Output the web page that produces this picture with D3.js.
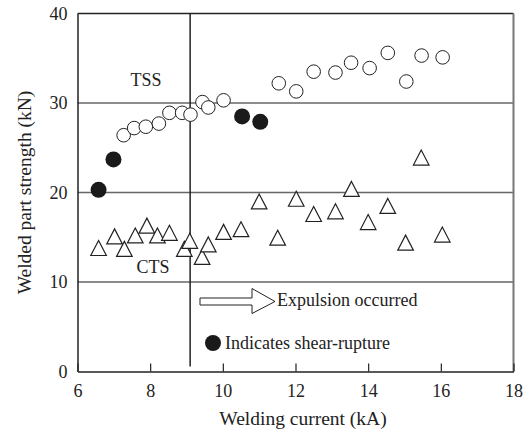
<!DOCTYPE html>
<html>
<head>
<meta charset="utf-8">
<script src="https://cdn.jsdelivr.net/npm/d3@7"></script>
<style>
  body { margin: 0; background: #fff; }
</style>
</head>
<body>
<svg width="528" height="432"></svg>
<script>
// TSS, normal fracture (open circles)
var tssCurrent  = [7.27, 7.56, 7.88, 8.24, 8.53, 8.88, 9.11, 9.44, 9.6, 10.02, 11.54, 12.02, 12.5, 13.1, 13.53, 14.04, 14.54, 15.05, 15.47, 16.05];
var tssStrength = [26.4, 27.2, 27.35, 27.7, 28.9, 28.9, 28.7, 30.1, 29.5, 30.3, 32.2, 31.3, 33.5, 33.4, 34.5, 33.9, 35.6, 32.4, 35.3, 35.1];
// TSS, shear-rupture (filled circles)
var ruptureCurrent  = [6.58, 6.99, 10.53, 11.03];
var ruptureStrength = [20.3, 23.7, 28.5, 27.9];
// CTS (triangles)
var ctsCurrent  = [6.58, 7.02, 7.29, 7.59, 7.91, 8.2, 8.53, 8.94, 9.09, 9.43, 9.6, 10.02, 10.5, 11.0, 11.51, 12.02, 12.5, 13.1, 13.54, 14.0, 14.54, 15.03, 15.46, 16.04];
var ctsStrength = [13.8, 15.1, 13.7, 15.2, 16.3, 15.2, 15.5, 13.7, 14.6, 12.8, 14.2, 15.6, 15.9, 19.0, 14.95, 19.3, 17.6, 17.9, 20.4, 16.7, 18.5, 14.4, 23.9, 15.3];

var xTicks = [6, 8, 10, 12, 14, 16, 18];
var yTicks = [0, 10, 20, 30, 40];
var expulsionCurrent = 9.1;

var serif = '"Liberation Serif", "Times New Roman", Times, serif';

var svg = d3.select("svg");

var x = d3.scaleLinear().domain([6, 18]).range([77.5, 513.5]);
var y = d3.scaleLinear().domain([0, 40]).range([371.5, 13.5]);

var zip = function(a, b) { return a.map(function(v, i) { return [v, b[i]]; }); };

function label(sel, size) {
  return sel.style("font-family", serif).style("font-size", size + "px").style("fill", "#222");
}

// grid lines at 10, 20, 30
svg.append("g").selectAll("line")
    .data(yTicks.filter(function(d) { return d > 0 && d < 40; }))
  .enter().append("line")
    .attr("x1", x(6)).attr("x2", x(18))
    .attr("y1", y).attr("y2", y)
    .attr("stroke", "#666").attr("stroke-width", 1.5);

// frame
svg.append("line").attr("x1", x(6)).attr("x2", x(18)).attr("y1", y(40)).attr("y2", y(40))
    .attr("stroke", "#222").attr("stroke-width", 1.5);
svg.append("line").attr("x1", x(18)).attr("x2", x(18)).attr("y1", y(40)).attr("y2", y(0))
    .attr("stroke", "#777").attr("stroke-width", 2);

// x axis, ticks pointing inward
var xAxis = svg.append("g")
    .attr("transform", "translate(0," + y(0) + ")")
    .call(d3.axisBottom(x).tickValues(xTicks).tickSizeInner(-8).tickSizeOuter(0).tickPadding(13));
xAxis.select(".domain").attr("stroke", "#222").attr("stroke-width", 1.5);
xAxis.selectAll(".tick line").attr("stroke", "#222").attr("stroke-width", 1.2);
label(xAxis.selectAll("text"), 18);

// y axis, labels only
var yAxis = svg.append("g")
    .attr("transform", "translate(" + x(6) + ",0)")
    .call(d3.axisLeft(y).tickValues(yTicks).tickSize(0).tickPadding(10));
yAxis.select(".domain").attr("stroke", "#222").attr("stroke-width", 1.5);
label(yAxis.selectAll("text"), 18);

// expulsion limit
svg.append("line")
    .attr("x1", x(expulsionCurrent)).attr("x2", x(expulsionCurrent))
    .attr("y1", y(40)).attr("y2", y(0) - 5)
    .attr("stroke", "#222").attr("stroke-width", 1.5);

// CTS triangles
var tri = "M0,-7.5L7.8,7.5L-7.8,7.5Z";
svg.append("g").selectAll("path")
    .data(zip(ctsCurrent, ctsStrength))
  .enter().append("path")
    .attr("d", tri)
    .attr("transform", function(d) { return "translate(" + x(d[0]) + "," + y(d[1]) + ")"; })
    .attr("fill", "#fff").attr("stroke", "#222").attr("stroke-width", 1.2);

// TSS open circles
svg.append("g").selectAll("circle")
    .data(zip(tssCurrent, tssStrength))
  .enter().append("circle")
    .attr("cx", function(d) { return x(d[0]); })
    .attr("cy", function(d) { return y(d[1]); })
    .attr("r", 6.8)
    .attr("fill", "#fff").attr("stroke", "#222").attr("stroke-width", 1);

// shear-rupture filled circles
svg.append("g").selectAll("circle")
    .data(zip(ruptureCurrent, ruptureStrength))
  .enter().append("circle")
    .attr("cx", function(d) { return x(d[0]); })
    .attr("cy", function(d) { return y(d[1]); })
    .attr("r", 8)
    .attr("fill", "#1a1a1a");

// labels inside plot
label(svg.append("text").attr("x", 146).attr("y", 86).attr("text-anchor", "middle").text("TSS"), 18);
label(svg.append("text").attr("x", 153).attr("y", 273).attr("text-anchor", "middle").text("CTS"), 18);

// arrow
svg.append("path")
    .attr("d", "M200,298L252,298L252,288.5L275,301.5L252,313.5L252,305L200,305Z")
    .attr("fill", "#fff").attr("stroke", "#222").attr("stroke-width", 1);
label(svg.append("text").attr("x", 277).attr("y", 306).text("Expulsion occurred"), 18);

// legend for filled marker
svg.append("circle").attr("cx", 213).attr("cy", 343).attr("r", 8).attr("fill", "#1a1a1a");
label(svg.append("text").attr("x", 225).attr("y", 349).text("Indicates shear-rupture"), 18);

// axis titles
label(svg.append("text").attr("x", 303).attr("y", 425).attr("text-anchor", "middle")
    .text("Welding current (kA)"), 19.5);
label(svg.append("text")
    .attr("transform", "translate(31," + (y(0) + y(40)) / 2 + ") rotate(-90)")
    .attr("text-anchor", "middle")
    .text("Welded part strength (kN)"), 19.5);
</script>
</body>
</html>
